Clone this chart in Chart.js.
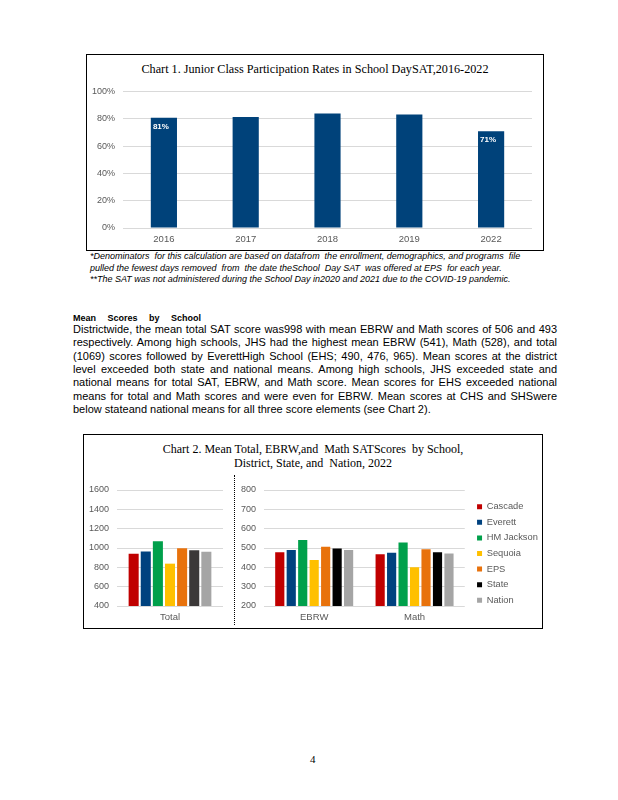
<!DOCTYPE html>
<html>
<head>
<meta charset="utf-8">
<script src="https://cdn.jsdelivr.net/npm/chart.js@4.4.0/dist/chart.umd.min.js"></script>
<style>
    body { margin: 0; background: #fff; }
    #page { position: relative; width: 618px; height: 800px; overflow: hidden; font-family: "Liberation Sans", Arial, sans-serif; color: #000; }
    .box { position: absolute; border: 1.5px solid #000; box-sizing: border-box; }
    .holder { position: absolute; }
    .title { position: absolute; font-family: "Liberation Serif", "Times New Roman", serif; line-height: 14px; text-align: center; white-space: pre; }
    .note { position: absolute; left: 90px; font-style: italic; font-size: 9px; line-height: 11px; white-space: pre; }
    .para { position: absolute; left: 73px; width: 484px; font-size: 11px; line-height: 13px; white-space: nowrap; text-align: justify; text-align-last: justify; }
    .para.last { text-align-last: left; }
    .heading { position: absolute; left: 73px; top: 312px; font-family: "Liberation Sans Narrow", "Liberation Sans", Arial, sans-serif; font-weight: bold; font-size: 9px; line-height: 12px; word-spacing: 9px; }
    .sep { position: absolute; left: 234px; top: 475px; height: 150px; border-left: 1.5px dotted #000; }
    .pageno { position: absolute; left: 310px; top: 753px; font-family: "Liberation Serif", "Times New Roman", serif; font-size: 11px; }
</style>
</head>
<body>
<div id="page">
    <div class="box" style="left:86px; top:54px; width:458px; height:197px;"></div>
    <div class="title" style="left:86px; top:62px; width:458px; font-size:12.2px;">Chart 1. Junior Class Participation Rates in School DaySAT,2016-2022</div>
    <div class="holder" style="left:87px; top:78px; width:456px; height:168px;"><canvas id="chart1"></canvas></div>

    <div class="note" style="top:251px;">*Denominators  for this calculation are based on datafrom  the enrollment, demographics, and programs  file</div>
    <div class="note" style="top:263px;">pulled the fewest days removed  from  the date theSchool  Day SAT  was offered at EPS  for each year.</div>
    <div class="note" style="top:274px;">**The SAT was not administered during the School Day in2020 and 2021 due to the COVID-19 pandemic.</div>

    <div class="heading">Mean  Scores  by School</div>
    <div class="para" style="top:323px;">Districtwide, the mean total SAT score was998 with mean EBRW and Math scores of 506 and 493</div>
    <div class="para" style="top:336px;">respectively. Among high schools, JHS had the highest mean EBRW (541), Math (528), and total</div>
    <div class="para" style="top:350px;">(1069) scores followed by EverettHigh School (EHS; 490, 476, 965). Mean scores at the district</div>
    <div class="para" style="top:363px;">level exceeded both state and national means. Among high schools, JHS exceeded state and</div>
    <div class="para" style="top:376px;">national means for total SAT, EBRW, and Math score. Mean scores for EHS exceeded national</div>
    <div class="para" style="top:390px;">means for total and Math scores and were even for EBRW. Mean scores at CHS and SHSwere</div>
    <div class="para last" style="top:403px;">below stateand national means for all three score elements (see Chart 2).</div>

    <div class="box" style="left:83px; top:434px; width:460px; height:195px;"></div>
    <div class="title" style="left:83px; top:442px; width:460px; font-size:12px;">Chart 2. Mean Total, EBRW,and  Math SATScores  by School,
District, State, and  Nation, 2022</div>
    <div class="holder" style="left:84px; top:475px; width:146px; height:152px;"><canvas id="chart2a"></canvas></div>
    <div class="sep"></div>
    <div class="holder" style="left:236px; top:475px; width:305px; height:152px;"><canvas id="chart2b"></canvas></div>

    <div class="pageno">4</div>
</div>
<script>
    // Chart 1 data
    const years = ['2016', '2017', '2018', '2019', '2022'];
    const participation = [80.8, 81.3, 83.8, 83.1, 70.9];
    const shownLabels = [true, false, false, false, true];
    const pctTicks = [0, 20, 40, 60, 80, 100];

    // Chart 2 data
    const schools = ['Cascade', 'Everett', 'HM Jackson', 'Sequoia', 'EPS', 'State', 'Nation'];
    const totalScores = [941, 965, 1069, 838, 998, 976, 962];
    const ebrwScores = [478, 490, 541, 438, 506, 498, 490];
    const mathScores = [468, 476, 528, 400, 493, 478, 472];
    const sections = ['EBRW', 'Math'];
    const totalTicks = [400, 600, 800, 1000, 1200, 1400, 1600];
    const sectionTicks = [200, 300, 400, 500, 600, 700, 800];

    const schoolColors = ['#C00000', '#00427F', '#00A04B', '#FFC000', '#E8720C', '#000000', '#A5A5A5'];
    const totalColors = ['#C00000', '#00427F', '#00A04B', '#FFC000', '#E8720C', '#3B3838', '#A5A5A5'];

    const axisGrey = '#595959';
    const gridGrey = '#D9D9D9';

    Chart.defaults.font.family = '"Liberation Sans", Arial, sans-serif';
    Chart.defaults.animation = false;

    // white % labels inside the top of selected bars
    const barLabels = {
        id: 'barLabels',
        afterDatasetsDraw(chart) {
            const ctx = chart.ctx;
            const meta = chart.getDatasetMeta(0);
            ctx.save();
            ctx.fillStyle = '#FFFFFF';
            ctx.font = 'bold 8px "Liberation Sans Narrow", "Liberation Sans", Arial';
            ctx.textAlign = 'center';
            ctx.textBaseline = 'top';
            meta.data.forEach(function(bar, i) {
                if (!shownLabels[i]) return;
                ctx.fillText(Math.round(participation[i]) + '%', bar.x - 3, bar.y + 5);
            });
            ctx.restore();
        }
    };

    // nudge the legend closer to the box edge like the original
    const legendNudge = {
        id: 'legendNudge',
        afterLayout(chart) {
            const lg = chart.legend;
            if (!lg) return;
            lg.left += 6; lg.right += 6;
            lg.top -= 5; lg.bottom -= 5;
        }
    };

    function fixedTicks(values) {
        return function(scale) {
            scale.ticks = values.map(v => ({ value: v }));
        };
    }

    function xAxis(height, pad) {
        return {
            grid: { display: false, drawTicks: false },
            border: { display: false },
            ticks: { color: axisGrey, font: { size: 9.5 }, padding: pad },
            afterFit: function(s) { s.height = height; }
        };
    }

    function yAxis(min, max, values, width, fmt) {
        return {
            min: min,
            max: max,
            afterBuildTicks: fixedTicks(values),
            ticks: { color: axisGrey, font: { size: 9 }, padding: 8, callback: fmt },
            grid: { color: gridGrey, drawTicks: false },
            border: { display: false },
            afterFit: function(s) { s.width = width; }
        };
    }

    new Chart(document.getElementById('chart1'), {
        type: 'bar',
        data: {
            labels: years,
            datasets: [{
                data: participation,
                backgroundColor: '#00427A',
                categoryPercentage: 1,
                barPercentage: 0.32
            }]
        },
        options: {
            responsive: true,
            maintainAspectRatio: false,
            layout: { padding: { top: 9, right: 11, left: 0, bottom: 0 } },
            plugins: { legend: { display: false }, tooltip: { enabled: false } },
            scales: {
                x: xAxis(18, 6),
                y: yAxis(0, 100, pctTicks, 36, v => v + '%')
            }
        },
        plugins: [barLabels]
    });

    new Chart(document.getElementById('chart2a'), {
        type: 'bar',
        data: {
            labels: ['Total'],
            datasets: schools.map((name, i) => ({
                label: name,
                data: [totalScores[i]],
                backgroundColor: totalColors[i],
                categoryPercentage: 0.8,
                barPercentage: 0.83
            }))
        },
        options: {
            responsive: true,
            maintainAspectRatio: false,
            layout: { padding: { top: 15, right: 7, left: 0, bottom: 0 } },
            plugins: { legend: { display: false }, tooltip: { enabled: false } },
            scales: {
                x: xAxis(21, 6),
                y: yAxis(400, 1600, totalTicks, 33, v => String(v))
            }
        }
    });

    new Chart(document.getElementById('chart2b'), {
        type: 'bar',
        data: {
            labels: sections,
            datasets: schools.map((name, i) => ({
                label: name,
                data: [ebrwScores[i], mathScores[i]],
                backgroundColor: schoolColors[i],
                categoryPercentage: 0.8,
                barPercentage: 0.8
            }))
        },
        options: {
            responsive: true,
            maintainAspectRatio: false,
            layout: { padding: { top: 15, right: 0, left: 0, bottom: 0 } },
            plugins: {
                tooltip: { enabled: false },
                legend: {
                    position: 'right',
                    labels: {
                        boxWidth: 5,
                        boxHeight: 5,
                        padding: 6.3,
                        color: axisGrey,
                        font: { size: 9.3 }
                    }
                }
            },
            scales: {
                x: xAxis(21, 6),
                y: yAxis(200, 800, sectionTicks, 28, v => String(v))
            }
        },
        plugins: [legendNudge]
    });
</script>
</body>
</html>
